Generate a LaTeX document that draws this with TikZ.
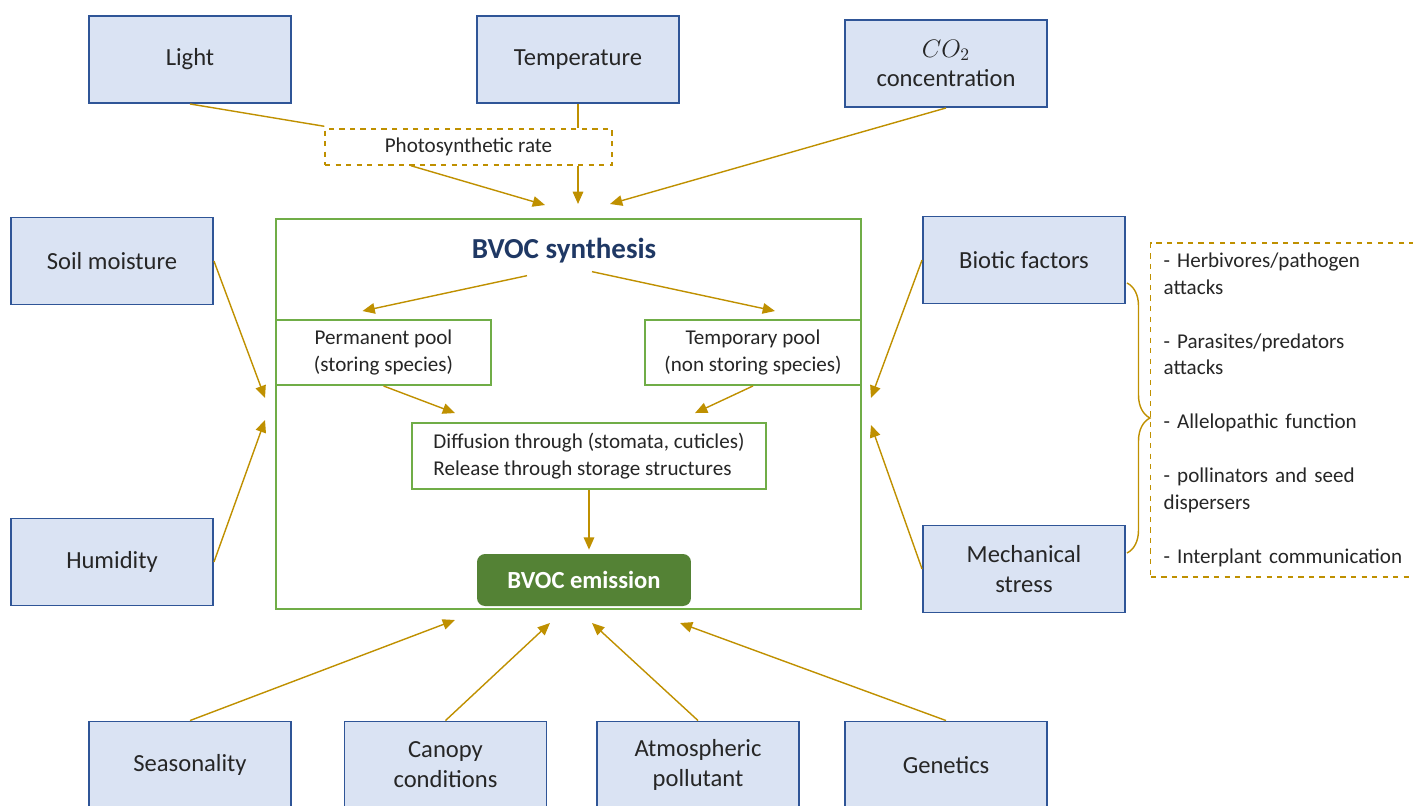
\documentclass[tikz,border=0pt]{standalone}
\usepackage{fontspec}
\setmainfont{Carlito}
\usetikzlibrary{arrows.meta,calc,decorations.pathreplacing}
\definecolor{boxfill}{HTML}{DAE3F3}
\definecolor{boxdraw}{HTML}{2F5597}
\definecolor{leafgreen}{HTML}{70AD47}
\definecolor{darkgreen}{HTML}{548235}
\definecolor{arrowgold}{HTML}{BF9000}
\definecolor{navy}{HTML}{1F3864}
\definecolor{txt}{HTML}{262626}

\begin{document}
\begin{tikzpicture}[x=0.02cm,y=-0.02cm,
           factor/.style={draw=boxdraw, line width=1.1pt, fill=boxfill, minimum width=4.04cm,
              minimum height=1.74cm, inner sep=0pt, align=center, text=txt,
              font=\fontsize{14}{17}\selectfont},
           pool/.style={draw=leafgreen, line width=1.1pt, fill=white, inner sep=0pt,
              minimum height=1.3cm, align=center, text=txt, font=\fontsize{12}{15.4}\selectfont},
           dashbox/.style={draw=arrowgold, dashed, line width=0.8pt, inner sep=0pt, text=txt,
              font=\fontsize{12}{15.1}\selectfont},
           connections/.style={-{Triangle[width=6pt,length=7pt]},draw=arrowgold,line width=0.8pt},
           plainline/.style={draw=arrowgold,line width=0.8pt},
        ]
        \useasboundingbox (0,0) rectangle (1413,805);

        % plant
        \node[draw=leafgreen, line width=1.1pt, minimum width=11.7cm, minimum height=7.8cm] at (568.5,414) (plant) {};
        \node[text=navy, font=\fontsize{16.5}{20}\selectfont\bfseries] at (564,251) (synth) {BVOC synthesis};
        \node[pool, minimum width=4.3cm] at (383.5,352.5) (perm) {Permanent pool\\(storing species)};
        \node[pool, minimum width=4.32cm] at (753,352.5) (temp) {Temporary pool\\(non storing species)};
        \node[pool, minimum width=7.08cm, minimum height=1.32cm, align=left] at (589,456) (diff) {Diffusion through (stomata, cuticles)\\Release through storage structures};
        \node[fill=darkgreen, rounded corners=0.16cm, minimum width=4.28cm, minimum height=1.04cm,
              text=white, font=\fontsize{14}{17}\selectfont\bfseries] at (584,580) (emission) {BVOC emission};

        \draw[connections] ($(synth.south)+(-37,6)$) -- ($(perm.north)+(-21,-8)$);
        \draw[connections] ($(synth.south)+(28,2)$) -- ($(temp.north)+(22,-8)$);
        \draw[connections] (perm.south) -- ($(diff.north)+(-134,-9)$);
        \draw[connections] (temp.south) -- ($(diff.north)+(106,-9)$);
        \draw[connections] (diff.south) -- ($(diff.south |- emission.north)+(0,-4)$);

        % top factors
        \node[factor] at (190,59.5) (light) {Light};
        \node[factor] at (578,59.5) (temperature) {Temperature};
        \node[factor] at (946,63.5) (co2) {$CO_2$\\concentration};
        \node[dashbox, minimum width=5.74cm, minimum height=0.72cm] at (468.5,147) (photo) {Photosynthetic rate};

        \coordinate (photoend) at (545,205);
        \coordinate (tempend) at (578,204);
        \coordinate (co2end) at (610,204);
        \draw[plainline] (light.south) -- ($(photo.north west)+(0,-2)$);
        \draw[connections] ($(photo.south west)!0.3!(photo.south east)$) -- (photoend);
        \draw[plainline] (temperature.south) -- (temperature.south |- photo.north);
        \draw[connections] (temperature.south |- photo.south) -- (tempend);
        \draw[connections] (co2.south) -- (co2end);

        % side factors
        \node[factor] at (112,261) (soil) {Soil moisture};
        \node[factor] at (112,562) (humidity) {Humidity};
        \node[factor] at (1024,260) (biotic) {Biotic factors};
        \node[factor] at (1024,569) (mech) {Mechanical\\stress};

        \coordinate (soilend) at (265,398);
        \coordinate (humidend) at (265,420);
        \coordinate (bioticend) at (871,398);
        \coordinate (mechend) at (871,425);
        \draw[connections] (soil.east) -- (soilend);
        \draw[connections] (humidity.east) -- (humidend);
        \draw[connections] (biotic.west) -- (bioticend);
        \draw[connections] (mech.west) -- (mechend);

        % biotic list
        \node[dashbox, anchor=west, minimum height=6.68cm, text width=5cm, inner xsep=0.26cm, align=left] at (1150,410) (biolist)
          {- Herbivores/pathogen\\attacks\\[0.55cm]
           - Parasites/predators\\attacks\\[0.55cm]
           - Allelopathic function\\[0.55cm]
           - pollinators and seed\\dispersers\\[0.55cm]
           - Interplant communication};
        \coordinate (bractop) at (1127,283);
        \coordinate (bracbot) at (1127,553);
        \draw[plainline, decorate, decoration={brace, amplitude=0.46cm}] (bractop) -- (bracbot);

        % bottom factors
        \node[factor] at (190,765) (season) {Seasonality};
        \node[factor] at (445.5,765) (canopy) {Canopy\\conditions};
        \node[factor] at (698,765) (atmos) {Atmospheric\\pollutant};
        \node[factor] at (946,765) (genetics) {Genetics};

        \coordinate (seasonend) at (455,620);
        \coordinate (canopyend) at (550,623);
        \coordinate (atmosend) at (592,623);
        \coordinate (geneend) at (680,623);
        \draw[connections] (season.north) -- (seasonend);
        \draw[connections] (canopy.north) -- (canopyend);
        \draw[connections] (atmos.north) -- (atmosend);
        \draw[connections] (genetics.north) -- (geneend);
     \end{tikzpicture}
\end{document}
